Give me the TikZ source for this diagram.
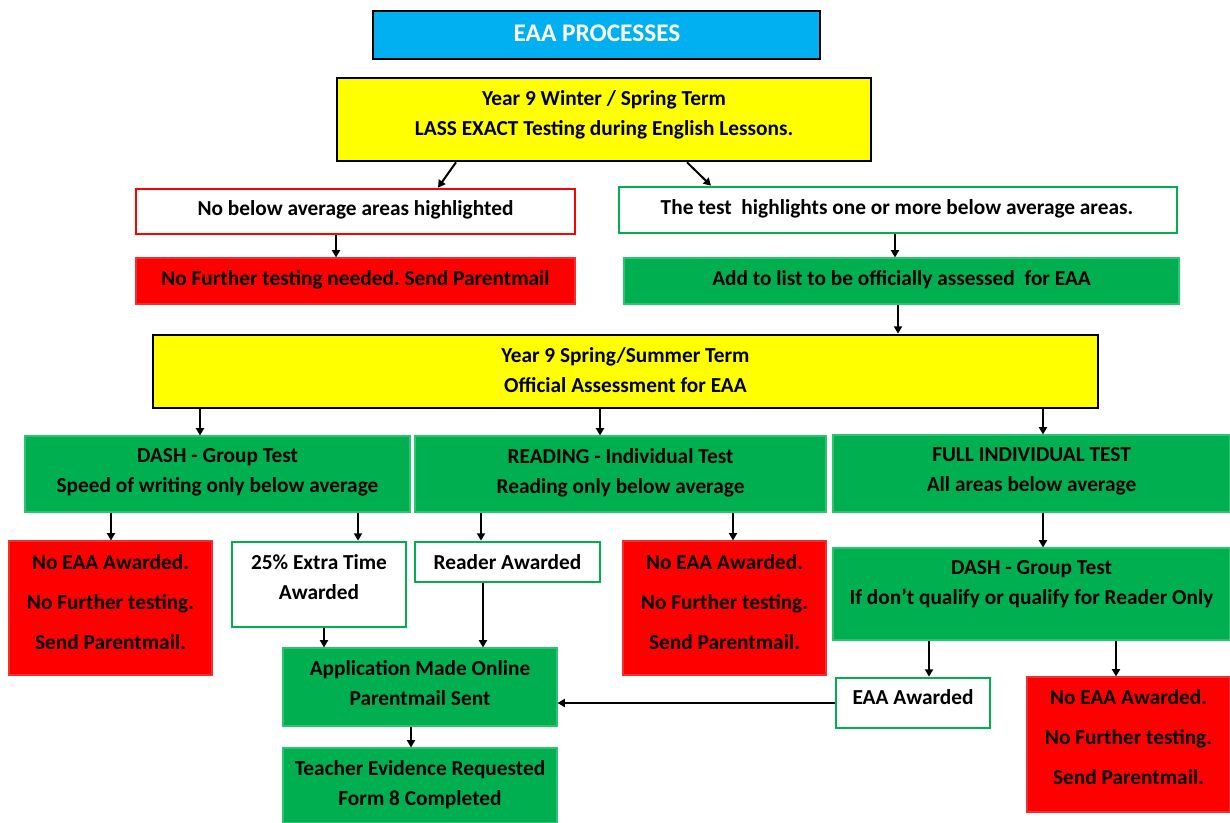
\documentclass[tikz,border=0pt]{standalone}
\usepackage{fontspec}
\setmainfont{Carlito}
\usetikzlibrary{arrows.meta,fit}
\definecolor{eaaBlue}{HTML}{00B0F0}
\definecolor{eaaYellow}{HTML}{FFFF00}
\definecolor{eaaGreen}{HTML}{00B050}
\definecolor{eaaGreenEdge}{HTML}{2CC46E}
\definecolor{eaaRed}{HTML}{FF0000}
\definecolor{eaaRedEdge}{HTML}{F03030}
\frenchspacing
\begin{document}
\begin{tikzpicture}[x=0.75pt,y=-0.75pt,
  box/.style={inner sep=0pt, rectangle},
  titlebox/.style={box, fill=eaaBlue, draw=black, line width=2pt},
  yelbox/.style={box, fill=eaaYellow, draw=black, line width=2pt},
  redline/.style={box, fill=white, draw=eaaRed, line width=2pt},
  greenline/.style={box, fill=white, draw=eaaGreen, line width=2pt},
  greenfill/.style={box, fill=eaaGreen, draw=eaaGreenEdge, line width=0.8pt},
  redfill/.style={box, fill=eaaRed, draw=eaaRedEdge, line width=0.8pt},
  txt/.style={inner sep=0pt, align=center, font=\fontsize{16}{22.5}\selectfont\bfseries},
  txtthree/.style={inner sep=0pt, align=center, font=\fontsize{16}{30}\selectfont\bfseries},
  arr/.style={line width=1.5pt, -{Triangle[length=5.5pt,width=6pt]}}
]
\useasboundingbox (0,0) rectangle (1230,823);

% boxes
\node[titlebox, fit={(373,11)(820,59)}] (title) {};
\node[yelbox, fit={(337,78)(871,161)}] (y1) {};
\node[redline, fit={(136,189)(575,234)}] (nb) {};
\node[greenline, fit={(619,187)(1177,233)}] (gb) {};
\node[redfill, fit={(136,258)(575,304)}] (nf) {};
\node[greenfill, fit={(624,258)(1179,304)}] (gf) {};
\node[yelbox, fit={(153,335)(1098,408)}] (y2) {};
\node[greenfill, fit={(25,436)(410,512)}] (dash) {};
\node[greenfill, fit={(415,436)(826,512)}] (read) {};
\node[greenfill, fit={(833,435)(1230,512)}] (full) {};
\node[redfill, fit={(9,541)(212,675)}] (r1) {};
\node[greenline, fit={(232,542)(406,627)}] (et) {};
\node[greenline, fit={(415,542)(600,582)}] (ra) {};
\node[redfill, fit={(623,541)(826,675)}] (r2) {};
\node[greenfill, fit={(833,548)(1230,640)}] (dr) {};
\node[greenfill, fit={(283,648)(557,726)}] (app) {};
\node[greenfill, fit={(283,748)(557,823)}] (teach) {};
\node[greenline, fit={(836,678)(990,728)}] (ea) {};
\node[redfill, fit={(1027,677)(1230,812)}] (r3) {};

% texts
\node[txt, text=white, font=\fontsize{19}{22.5}\selectfont\bfseries] (titlet) at (597,33) {EAA PROCESSES};
\node[txt] (y1t) at (604,115) {Year 9 Winter / Spring Term\\LASS EXACT Testing during English Lessons.};
\node[txt] (nbt) at (355.5,210) {No below average areas highlighted};
\node[txt] (gbt) at (897,209) {The test\ \ highlights one or more below average areas.};
\node[txt] (nft) at (355.5,280) {No Further testing needed. Send Parentmail};
\node[txt] (gft) at (901.5,280) {Add to list to be officially assessed\ \ for EAA};
\node[txt] (y2t) at (625.5,370) {Year 9 Spring/Summer Term\\Official Assessment for EAA};
\node[txt] (dasht) at (217.5,472.5) {DASH - Group Test\\Speed of writing only below average};
\node[txt] (readt) at (620.5,472.5) {READING - Individual Test\\Reading only below average};
\node[txt] (fullt) at (1031.5,471) {FULL INDIVIDUAL TEST\\All areas below average};
\node[txtthree] (r1t) at (110.5,602) {No EAA Awarded.\\No Further testing.\\Send Parentmail.};
\node[txt] (ett) at (319,577) {25\% Extra Time\\Awarded};
\node[txt] (rat) at (507.5,562) {Reader Awarded};
\node[txtthree] (r2t) at (724.5,602) {No EAA Awarded.\\No Further testing.\\Send Parentmail.};
\node[txt] (drt) at (1031.5,584.5) {DASH - Group Test\\If don’t qualify or qualify for Reader Only};
\node[txt] (appt) at (420,683.5) {Application Made Online\\Parentmail Sent};
\node[txt] (teacht) at (420,785) {Teacher Evidence Requested\\Form 8 Completed};
\node[txt] (eat) at (913,697) {EAA Awarded};
\node[txtthree] (r3t) at (1128.5,737.5) {No EAA Awarded.\\No Further testing.\\Send Parentmail.};

% connectors
\draw[arr] (456,0 |- y1.south) -- (438,0 |- nb.north);
\draw[arr] (687,0 |- y1.south) -- (711,0 |- gb.north);
\draw[arr] (336,0 |- nb.south) -- (336,0 |- nf.north);
\draw[arr] (895,0 |- gb.south) -- (895,0 |- gf.north);
\draw[arr] (898,0 |- gf.south) -- (898,0 |- y2.north);
\draw[arr] (200,0 |- y2.south) -- (200,0 |- dash.north);
\draw[arr] (600,0 |- y2.south) -- (600,0 |- read.north);
\draw[arr] (1043,0 |- y2.south) -- (1043,0 |- full.north);
\draw[arr] (111,0 |- dash.south) -- (111,0 |- r1.north);
\draw[arr] (358,0 |- dash.south) -- (358,0 |- et.north);
\draw[arr] (481,0 |- read.south) -- (481,0 |- ra.north);
\draw[arr] (733,0 |- read.south) -- (733,0 |- r2.north);
\draw[arr] (1043,0 |- full.south) -- (1043,0 |- dr.north);
\draw[arr] (324,0 |- et.south) -- (324,0 |- app.north);
\draw[arr] (483,0 |- ra.south) -- (483,0 |- app.north);
\draw[arr] (411,0 |- app.south) -- (411,0 |- teach.north);
\draw[arr] (ea.west |- 0,703) -- (app.east |- 0,703);
\draw[arr] (929,0 |- dr.south) -- (929,0 |- ea.north);
\draw[arr] (1116,0 |- dr.south) -- (1116,0 |- r3.north);
\end{tikzpicture}
\end{document}
